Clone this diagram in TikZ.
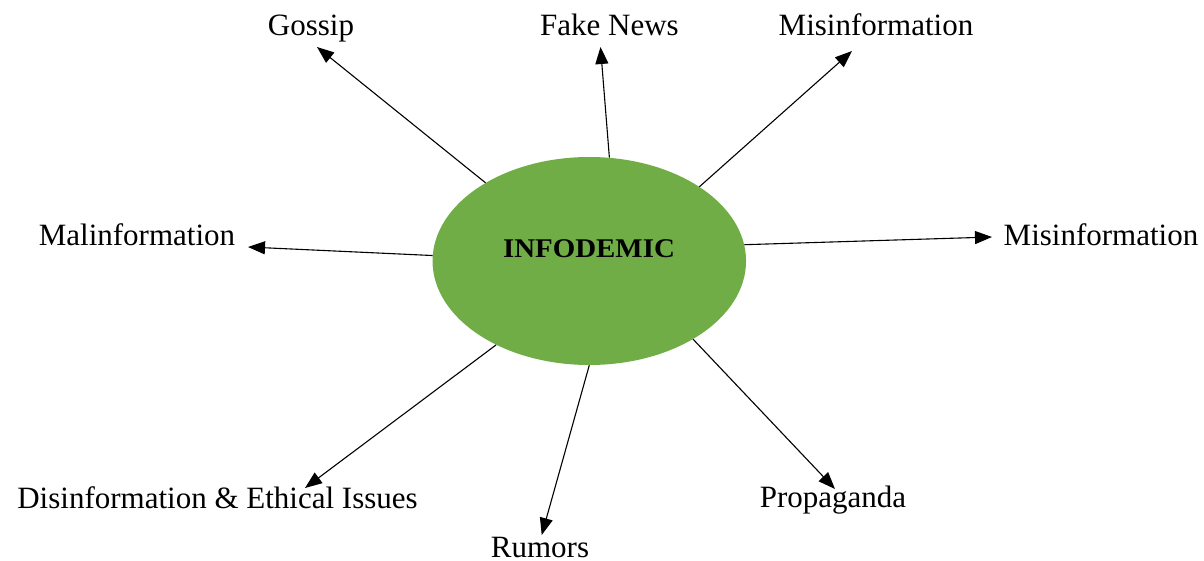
\documentclass[tikz,border=0pt]{standalone}
\usepackage{fontspec}
\setmainfont{Liberation Serif}
\usetikzlibrary{shapes.geometric,arrows.meta}
\definecolor{officegreen}{HTML}{70AD47}
\begin{document}
\begin{tikzpicture}[x=1pt,y=-1pt,
  lbl/.style={anchor=base,inner sep=0pt,font=\fontsize{31}{36}\selectfont},
  arr/.style={line width=1.1pt,-{Triangle[length=17pt,width=13pt]}}]
\useasboundingbox (0,0) rectangle (1204,561);
\node[ellipse,fill=officegreen,minimum width=313.5pt,minimum height=208pt,inner sep=0pt] (e) at (589.3,261) {};
\node[anchor=base,inner sep=0pt,font=\fontsize{27}{32}\selectfont\bfseries] (t) at (589,258) {\scalebox{1.07}[1]{INFODEMIC}};
% labels
\node[lbl] (gossip) at (311,36) {Gossip};
\node[lbl] (fake) at (609.5,36) {Fake News};
\node[lbl] (mis1) at (876,36) {Misinformation};
\node[lbl] (mis2) at (1101,246) {Misinformation};
\node[lbl] (mal) at (137,245.5) {Malinformation};
\node[lbl] (dis) at (217.5,508) {Disinformation \& Ethical Issues};
\node[lbl] (rum) at (540,557) {Rumors};
\node[lbl] (prop) at (833,507.5) {Propaganda};
% arrow tips
\coordinate (tg) at (317,47);
\coordinate (tf) at (600.5,47);
\coordinate (tm1) at (852,51);
\coordinate (tm2) at (992,237);
\coordinate (tmal) at (248,247);
\coordinate (td) at (305,488);
\coordinate (tr) at (541.7,535);
\coordinate (tp) at (835,489);
\draw[arr] (e.143.8) -- (tg);
\draw[arr] (e.79.1) -- (tf);
\draw[arr] (e.34.1) -- (tm1);
\draw[arr] (e.6.2) -- (tm2);
\draw[arr] (e.178.1) -- (tmal);
\draw[arr] (e.222.4) -- (td);
\draw[arr] (e.270.8) -- (tr);
\draw[arr] (e.323.0) -- (tp);
\end{tikzpicture}
\end{document}
